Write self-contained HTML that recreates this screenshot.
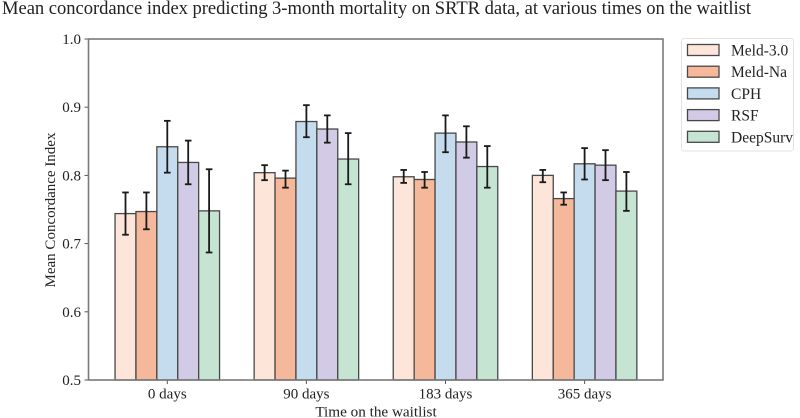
<!DOCTYPE html>
<html lang="en">
<head>
<meta charset="utf-8">
<title>Mean concordance index chart</title>
<style>
html,body{margin:0;padding:0;background:#fff;}
svg{display:block;filter:blur(0.3px);}
text{font-family:"Liberation Serif",serif;fill:#222;}
</style>
</head>
<body>
<svg id="chart" xmlns="http://www.w3.org/2000/svg" width="800" height="418" viewBox="0 0 800 418">
<text x="2" y="14" font-size="18.6" textLength="749" lengthAdjust="spacing">Mean concordance index predicting 3-month mortality on SRTR data, at various times on the waitlist</text>
<g id="plot"></g>
<rect x="88.5" y="39" width="574.5" height="341" fill="none" stroke="#7a7a7a" stroke-width="1.6"/>
<text x="376" y="416.5" font-size="15.2" text-anchor="middle">Time on the waitlist</text>
<text transform="translate(55,210) rotate(-90)" font-size="15" text-anchor="middle">Mean Concordance Index</text>
<g id="legend">
<rect x="681.5" y="38.5" width="112" height="112.5" rx="2.5" fill="#fff" stroke="#e2e2e2" stroke-width="1"/>
</g>
</svg>
<script>
const categories = ['0 days', '90 days', '183 days', '365 days'];
const seriesNames = ['Meld-3.0', 'Meld-Na', 'CPH', 'RSF', 'DeepSurv'];
const seriesColors = ['#fde5d9', '#f5b89a', '#c5dcee', '#d2cbe5', '#c6e4d2'];
const meld30Values = [0.744, 0.804, 0.798, 0.800];
const meldNaValues = [0.747, 0.796, 0.794, 0.766];
const cphValues = [0.842, 0.879, 0.862, 0.817];
const rsfValues = [0.819, 0.868, 0.849, 0.815];
const deepSurvValues = [0.748, 0.824, 0.813, 0.777];
const meld30Low = [0.713, 0.793, 0.789, 0.790];
const meld30High = [0.775, 0.815, 0.808, 0.808];
const meldNaLow = [0.721, 0.782, 0.782, 0.757];
const meldNaHigh = [0.775, 0.807, 0.805, 0.775];
const cphLow = [0.804, 0.856, 0.834, 0.794];
const cphHigh = [0.880, 0.903, 0.888, 0.840];
const rsfLow = [0.787, 0.848, 0.826, 0.793];
const rsfHigh = [0.851, 0.888, 0.872, 0.837];
const deepSurvLow = [0.687, 0.787, 0.782, 0.748];
const deepSurvHigh = [0.809, 0.862, 0.843, 0.805];
const yTicks = [0.5, 0.6, 0.7, 0.8, 0.9, 1.0];

const seriesValues = [meld30Values, meldNaValues, cphValues, rsfValues, deepSurvValues];
const seriesLow = [meld30Low, meldNaLow, cphLow, rsfLow, deepSurvLow];
const seriesHigh = [meld30High, meldNaHigh, cphHigh, rsfHigh, deepSurvHigh];

const NS = 'http://www.w3.org/2000/svg';
const plot = document.getElementById('plot');
const legend = document.getElementById('legend');
const axisBottom = 380, axisTop = 39;
const yOf = v => axisBottom - (v - 0.5) / 0.5 * (axisBottom - axisTop);
const groupStart = 167.3, groupStep = 139.1, barWidth = 20.9;
const xOf = i => groupStart + i * groupStep;

function make(tag, attrs, parent) {
  const el = document.createElementNS(NS, tag);
  for (const k in attrs) el.setAttribute(k, attrs[k]);
  parent.appendChild(el);
  return el;
}

yTicks.forEach(t => {
  const y = yOf(t);
  const tick = make('line', {x1: 84.5, x2: 88.5, y1: y, y2: y, stroke: '#555', 'stroke-width': 1}, plot);
  
  
  const label = make('text', {x: 81, y: y + 5, 'font-size': 15, 'text-anchor': 'end'}, plot);
  label.textContent = t.toFixed(1);
  
  
});

categories.forEach((c, i) => {
  const x = xOf(i);
  const tick = make('line', {x1: x, x2: x, y1: 380, y2: 384, stroke: '#555', 'stroke-width': 1}, plot);
  
  
  const label = make('text', {x: x, y: 398.5, 'font-size': 15, 'text-anchor': 'middle'}, plot);
  label.textContent = c;
  
  
});

seriesNames.forEach((name, s) => {
  categories.forEach((c, i) => {
    const left = xOf(i) + (s - 2.5) * barWidth;
    const top = yOf(seriesValues[s][i]);
    const bar = make('rect', {x: left, y: top, width: barWidth, height: axisBottom - top,
      fill: seriesColors[s], stroke: '#484848', 'stroke-width': 1.3}, plot);
    
    
  });
});

seriesNames.forEach((name, s) => {
  categories.forEach((c, i) => {
    const cx = xOf(i) + (s - 2) * barWidth;
    const hi = yOf(seriesHigh[s][i]), lo = yOf(seriesLow[s][i]);
    const g = make('g', {stroke: '#1a1a1a', 'stroke-width': 1.8}, plot);
    
    
    make('line', {x1: cx, x2: cx, y1: hi, y2: lo}, g);
    make('line', {x1: cx - 3.3, x2: cx + 3.3, y1: hi, y2: hi}, g);
    make('line', {x1: cx - 3.3, x2: cx + 3.3, y1: lo, y2: lo}, g);
  });
});

seriesNames.forEach((name, s) => {
  const top = 44.5 + s * 21.7;
  const swatch = make('rect', {x: 687.5, y: top, width: 31.5, height: 11,
    fill: seriesColors[s], stroke: '#484848', 'stroke-width': 1.3}, legend);
  
  
  const label = make('text', {x: 731, y: top + 11, 'font-size': 15.5}, legend);
  label.textContent = name;
  
  
});
</script>
</body>
</html>
